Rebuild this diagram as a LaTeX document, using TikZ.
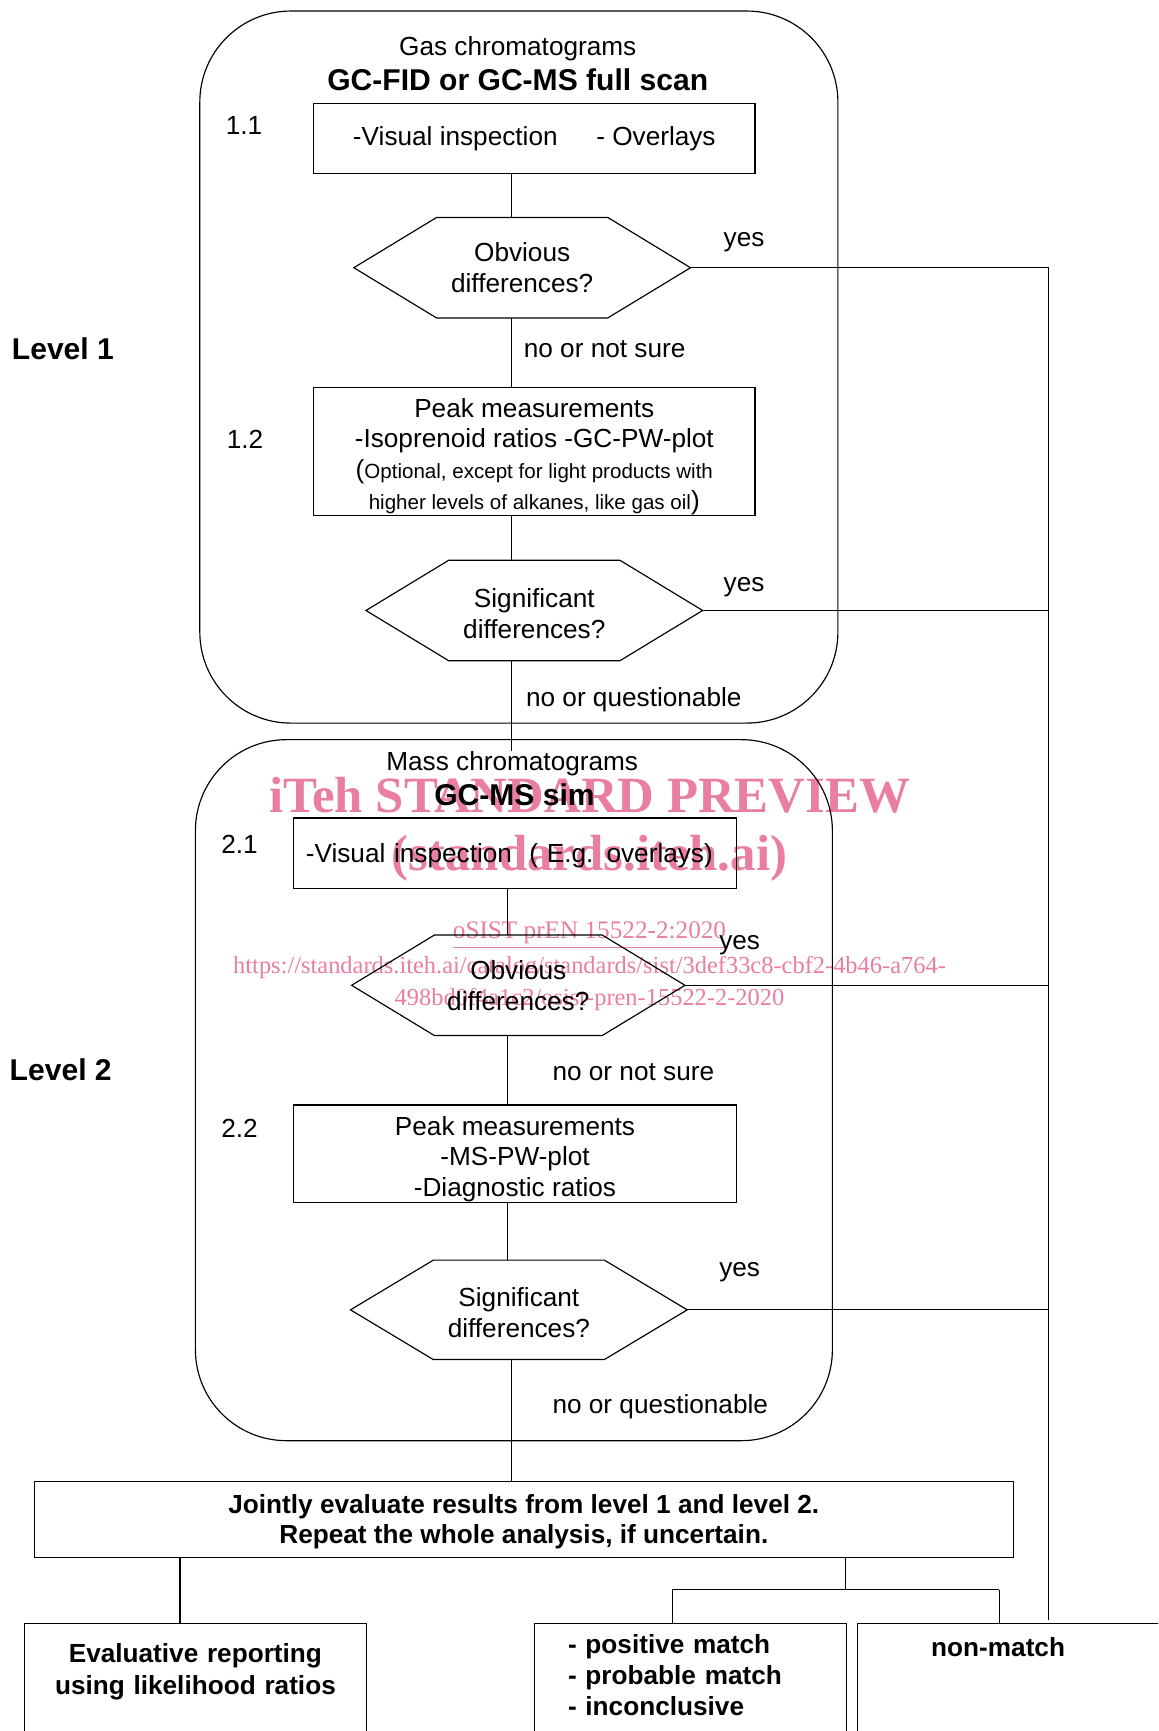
\documentclass[tikz,border=0pt]{standalone}
\usepackage{fontspec}
\setmainfont{Liberation Sans}
\newfontfamily\wmserif{Liberation Serif}

\definecolor{wmpink}{RGB}{233,125,162}
\newcommand{\fsText}{\fontsize{13.5pt}{15.9pt}\selectfont}
\newcommand{\fsHead}{\fontsize{15.5pt}{18pt}\selectfont}
\newcommand{\fsNote}{\fontsize{10.6pt}{15.9pt}\selectfont}
\newcommand{\fsWide}{\fontsize{13.5pt}{16.5pt}\selectfont}
% hexagon round a decision node
\newcommand{\hexframe}[1]{\draw (#1.west) -- ([xshift=1.5cm]#1.north west) -- ([xshift=-1.5cm]#1.north east) -- (#1.east) -- ([xshift=-1.5cm]#1.south east) -- ([xshift=1.5cm]#1.south west) -- cycle;}

\begin{document}
\begin{tikzpicture}[x=0.02cm, y=-0.02cm, line width=0.6pt, font=\fsText,
  box/.style={draw, rectangle, inner sep=0pt, align=center},
  decision/.style={rectangle, inner sep=0pt, align=center, minimum width=6.08cm, minimum height=1.8cm},
  group/.style={draw, rounded corners=1.65cm},
  lbl/.style={inner sep=0pt},
  wm/.style={inner sep=0pt, text=wmpink, font=\wmserif}]

\useasboundingbox (0,0) rectangle (1049,1568);
\clip (0,0) rectangle (1049,1568);

%watermark
\node[wm, font=\wmserif\bfseries\fontsize{26.2pt}{30pt}\selectfont] (wmA) at (534,720) {iTeh STANDARD PREVIEW};
\node[wm, font=\wmserif\bfseries\fontsize{26.2pt}{30pt}\selectfont] (wmB) at (534,777) {(standards.iteh.ai)};
\node[wm, font=\wmserif\fontsize{13pt}{15pt}\selectfont] (wmC) at (534,847) {\underline{oSIST prEN 15522-2:2020}};
\node[wm, font=\wmserif\fontsize{12.6pt}{15pt}\selectfont] (wmD) at (534,876) {https://standards.iteh.ai/catalog/standards/sist/3def33c8-cbf2-4b46-a764-};
\node[wm, font=\wmserif\fontsize{12.6pt}{15pt}\selectfont] (wmE) at (534,905) {498bd0f4a1c2/osist-pren-15522-2-2020};

%level frames
\draw[group] (181,10) rectangle (759,655);
\draw[group] (177,670) rectangle (754,1305);

\node[lbl, font=\fsHead\bfseries] (lvlA) at (57,316) {Level 1};
\node[lbl, font=\fsHead\bfseries] (lvlB) at (55,969) {Level 2};

%level 1
\node[lbl] (gasT) at (469,44) {Gas chromatograms};
\node[lbl, font=\fsHead\bfseries] (gasH) at (469,72) {GC-FID or GC-MS full scan};
\node[lbl] (n11) at (221,114) {1.1};
\node[box, minimum width=8cm, minimum height=1.26cm] (b11) at (484,125.5) {-Visual inspection\hspace{0.7cm}- Overlays};
\node[decision] (h1) at (473,242.5) {Obvious\\differences?};
\hexframe{h1}
\node[lbl, anchor=west] (noA) at (474,316) {no or not sure};
\node[lbl] (n12) at (222,398) {1.2};
\node[box, minimum width=8cm, minimum height=2.32cm] (b12) at (484,409) {\rule{0pt}{15pt}Peak measurements\\-Isoprenoid ratios -GC-PW-plot\\{\fsText(}{\fsNote Optional, except for light products with}\\{\fsNote higher levels of alkanes, like gas oil}{\fsText)}};
\node[decision] (h2) at (484,553) {\rule{0pt}{13.3pt}Significant\\differences?};
\hexframe{h2}
\node[lbl, anchor=west] (noB) at (476,634) {no or questionable};

%level 2
\node[lbl] (massT) at (464,692) {Mass chromatograms};
\node[lbl, font=\fsHead\bfseries] (massH) at (466,720) {GC-MS sim};
\node[lbl] (n21) at (217,765) {2.1};
\node[box, minimum height=1.28cm, text width=7.58cm, inner xsep=0.22cm, align=left] (b21) at (466.5,773) {\rule{0pt}{12pt}-Visual inspection\ \ ( E.g. overlays)};
\node[decision, minimum width=6.02cm] (h3) at (469.5,892.5) {Obvious\\differences?};
\hexframe{h3}
\node[lbl, anchor=west] (noC) at (500,971) {no or not sure};
\node[lbl] (n22) at (217,1022) {2.2};
\node[box, minimum width=8.02cm, minimum height=1.76cm] (b22) at (466.5,1045) {\rule{0pt}{15.5pt}Peak measurements\\-MS-PW-plot\\-Diagnostic ratios};
\node[decision, minimum height=1.78cm] (h4) at (470,1186.5) {\rule{0pt}{12.5pt}Significant\\differences?};
\hexframe{h4}
\node[lbl, anchor=west] (noD) at (500,1274) {no or questionable};

%yes labels
\node[lbl] (yesA) at (674,219) {yes};
\node[lbl] (yesB) at (674,532) {yes};
\node[lbl] (yesC) at (670,856) {yes};
\node[lbl] (yesD) at (670,1152) {yes};

%results
\node[box, minimum width=17.74cm, minimum height=1.38cm, font=\fsText\bfseries] (joint) at (474.5,1376.5) {\rule{0pt}{12pt}Jointly evaluate results from level 1 and level 2.\\Repeat the whole analysis, if uncertain.};
\node[box, anchor=north, text width=6.2cm, inner ysep=0.37cm, text depth=4cm, font=\fsWide\bfseries] (eval) at (177,1470) {Evaluative reporting\\using likelihood ratios};
\node[box, anchor=north west, text width=4.44cm, inner xsep=0.6cm, inner ysep=0.21cm, text depth=4cm, align=left, font=\fsText\bfseries] (match) at (484,1470) {- positive match\\- probable match\\- inconclusive};
\node[box, anchor=north west, text width=4.2cm, inner xsep=1.34cm, inner ysep=0.25cm, text depth=4cm, align=left, font=\fsText\bfseries] (nonmatch) at (776,1470) {non-match};

%connectors
\coordinate (spineA) at (463,0);
\coordinate (spineB) at (460,0);
\coordinate (rail) at (950,0);
\coordinate (drop) at (163,0);
\coordinate (fork) at (766,1440);
\coordinate (brA) at (609,1440);
\coordinate (brB) at (905,1440);

\draw (b11.south -| spineA) -- (h1.north -| spineA);
\draw (h1.south -| spineA) -- (b12.north -| spineA);
\draw (b12.south -| spineA) -- (h2.north -| spineA);
\draw (h2.south -| spineA) -- (massT.north -| spineA);
\draw (b21.south -| spineB) -- (h3.north -| spineB);
\draw (h3.south -| spineB) -- (b22.north -| spineB);
\draw (b22.south -| spineB) -- (h4.north -| spineB);
\draw (h4.south -| spineA) -- (joint.north -| spineA);

\draw (h1.east) -- (h1.east -| rail);
\draw (h2.east) -- (h2.east -| rail);
\draw (h3.east) -- (h3.east -| rail);
\draw (h4.east) -- (h4.east -| rail);
\draw (h1.east -| rail) -- ([yshift=1.5pt]nonmatch.north -| rail);

\draw (joint.south -| drop) -- (eval.north -| drop);
\draw (joint.south -| fork) -- (fork);
\draw (brA) -- (brB);
\draw (brA) -- (match.north -| brA);
\draw (brB) -- (nonmatch.north -| brB);

\end{tikzpicture}
\end{document}
